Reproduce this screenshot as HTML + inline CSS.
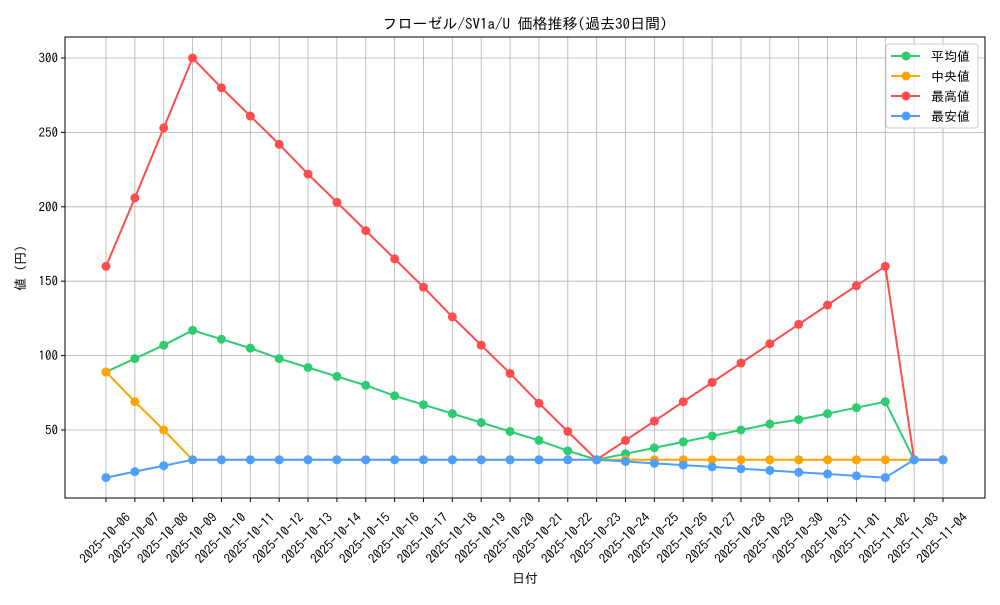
<!DOCTYPE html><html><head><meta charset="utf-8"><style>body{margin:0;background:#fff}svg text{font-family:"IPAGothic","Liberation Sans",sans-serif}</style></head><body>
<svg id="s" width="1000" height="600" xmlns="http://www.w3.org/2000/svg"></svg>
<script>
const s=document.getElementById('s');let h='';
const X0=65,X1=985,Y0=37,Y1=498;
const xs=i=>106+i*(943-106)/29, ys=v=>58+(300-v)*1.488;
for(let i=0;i<30;i++){const x=xs(i);h+=`<line x1="${x}" y1="${Y0}" x2="${x}" y2="${Y1}" stroke="#b0b0b0" stroke-width="0.8"/>`;
const d=new Date(Date.UTC(2025,9,6+i));const t=d.toISOString().slice(0,10);
h+=`<line x1="${x}" y1="${Y1}" x2="${x}" y2="${Y1+4}" stroke="#000"/>`;
h+=`<text transform="translate(${x+19},${Y1+14}) rotate(-45)" text-anchor="end" font-size="13" dominant-baseline="hanging">${t}</text>`;}
for(let v=50;v<=300;v+=50){const y=ys(v);h+=`<line x1="${X0}" y1="${y}" x2="${X1}" y2="${y}" stroke="#b0b0b0" stroke-width="0.8"/><line x1="${X0-4}" y1="${y}" x2="${X0}" y2="${y}" stroke="#000"/><text x="${X0-7}" y="${y+4.5}" text-anchor="end" font-size="13">${v}</text>`;}
const mx=[160,206,253,300,280,261,242,222,203,184,165,146,126,107,88,68,49,30,43,56,69,82,95,108,121,134,147,160,30,30];
const av=[89,98,107,117,111,105,98,92,86,80,73,67,61,55,49,43,36,30,34,38,42,46,50,54,57,61,65,69,30,30];
const md=[89,69,50].concat(Array(27).fill(30));
const mn=[18,22,26].concat(Array(15).fill(30));for(let k=1;k<=10;k++)mn.push(30-k*1.2);mn.push(30,30);
const ser=[[av,'#2ecc71'],[md,'#ffa500'],[mx,'#ff4d4d'],[mn,'#4d9fff']];
for(const [d,c] of ser){h+=`<polyline fill="none" stroke="${c}" stroke-width="2" points="${d.map((v,i)=>xs(i)+','+ys(v)).join(' ')}"/>`;d.forEach((v,i)=>h+=`<circle cx="${xs(i)}" cy="${ys(v)}" r="4.5" fill="${c}"/>`);}
h+=`<rect x="${X0}" y="${Y0}" width="${X1-X0}" height="${Y1-Y0}" fill="none" stroke="#000" stroke-width="1"/>`;
h+=`<rect x="886" y="44" width="92" height="84" rx="3" fill="#fff" fill-opacity="0.8" stroke="#ccc"/>`;
['平均値','中央値','最高値','最安値'].forEach((t,i)=>{const y=56+i*20,c=ser[i][1];h+=`<line x1="891" y1="${y}" x2="920" y2="${y}" stroke="${c}" stroke-width="2"/><circle cx="906" cy="${y}" r="4.5" fill="${c}"/><text x="931" y="${y+5}" font-size="13">${t}</text>`;});
h+=`<text x="525" y="29" text-anchor="middle" font-size="15">フローゼル/SV1a/U 価格推移(過去30日間)</text>`;
h+=`<text x="525" y="583" text-anchor="middle" font-size="13">日付</text>`;
h+=`<text transform="translate(25,268) rotate(-90)" text-anchor="middle" font-size="13">値 (円)</text>`;
s.innerHTML=h;
</script></body></html>
